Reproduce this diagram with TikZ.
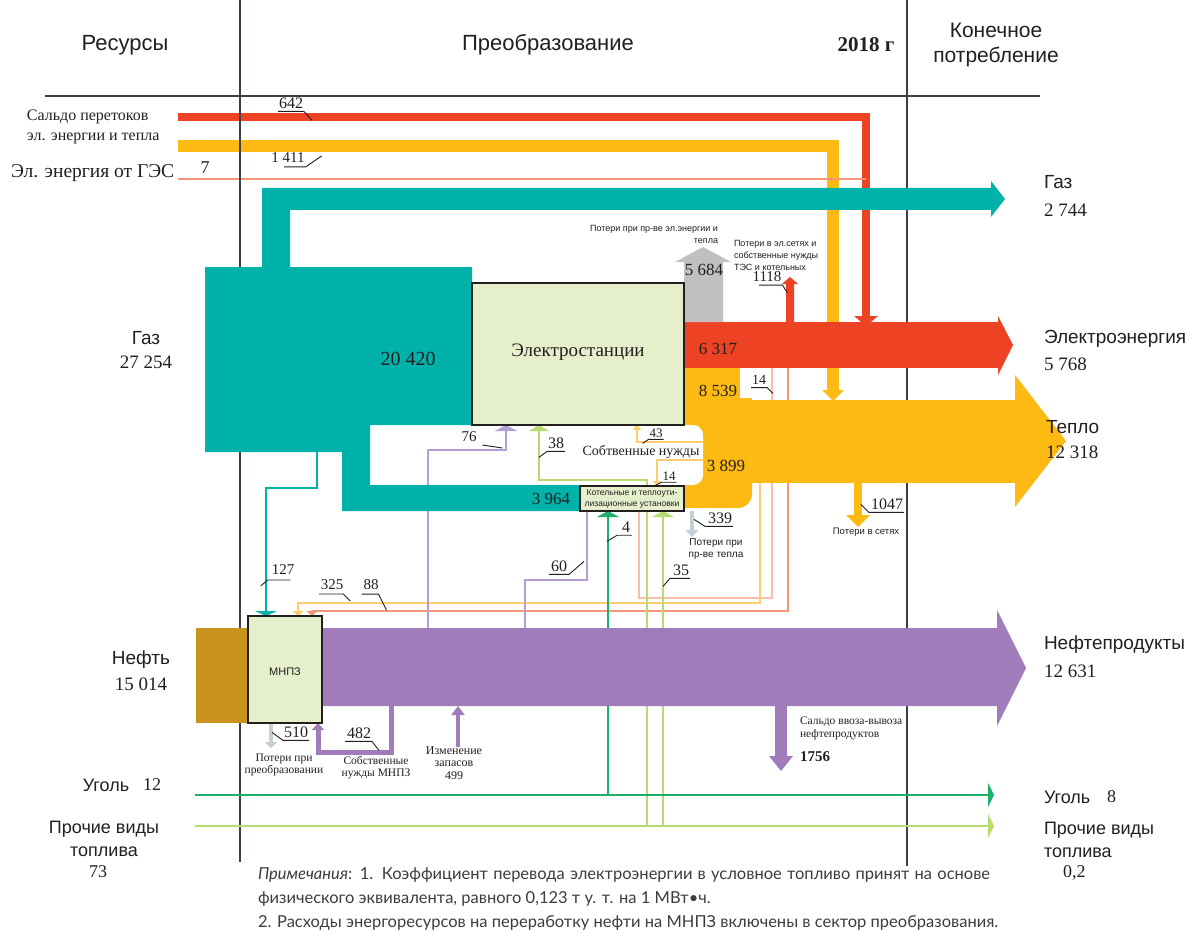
\documentclass[tikz,border=0pt]{standalone}
\usepackage{fontspec}
\setmainfont{Liberation Serif}
\newfontfamily\sansf{Liberation Sans}
\newfontfamily\notef{Lato}
\usetikzlibrary{arrows.meta,calc}
\definecolor{teal1}{RGB}{0,178,169}
\definecolor{red1}{RGB}{238,66,36}
\definecolor{yel1}{RGB}{253,186,19}
\definecolor{yel2}{RGB}{253,206,110}
\definecolor{salm}{RGB}{245,150,120}
\definecolor{salm2}{RGB}{249,190,170}
\definecolor{purp}{RGB}{160,124,186}
\definecolor{purp2}{RGB}{180,158,214}
\definecolor{boxg}{RGB}{230,239,203}
\definecolor{brown1}{RGB}{200,148,30}
\definecolor{gray1}{RGB}{192,192,192}
\definecolor{gray2}{RGB}{196,208,214}
\definecolor{grn1}{RGB}{30,176,106}
\definecolor{grn2}{RGB}{184,218,112}
\definecolor{ink}{RGB}{35,31,32}
\definecolor{rule}{RGB}{60,64,70}
\definecolor{notec}{RGB}{60,60,60}
\tikzset{
  sr/.style={font=\fontsize{#1}{#1}\selectfont},
  ss/.style={font=\sansf\fontsize{#1}{#1}\selectfont},
  srm/.style 2 args={font=\fontsize{#1}{#2}\selectfont},
  ssm/.style 2 args={font=\sansf\fontsize{#1}{#2}\selectfont},
  lead/.style={draw=ink,line width=0.9pt},
  notestyle/.style={anchor=base west,font=\notef\fontsize{16.5}{16.5}\selectfont,text=notec},
}
\begin{document}
\begin{tikzpicture}[x=1pt,y=-1pt,every node/.style={inner sep=0pt,outer sep=0pt,text=ink}]
\fill[white] (0,0) rectangle (1193,933);
\useasboundingbox (0,0) rectangle (1193,933);

% top incoming bands
\draw[red1, line width=8pt] (178,117) -- (866,117) -- (866,318);
\fill[red1] (854,316) -- (878,316) -- (866,326) -- cycle;
\draw[yel1, line width=12pt] (178,146) -- (833,146) -- (833,392);
\fill[yel1] (822,390) -- (844,390) -- (833,401) -- cycle;
\draw[salm, line width=2pt] (178,179) -- (866,179);

% rules
\draw[rule, line width=1.3pt] (45,96) -- (1040,96);
\draw[rule, line width=1.2pt] (240,0) -- (240,862);
\draw[rule, line width=1.2pt] (907,0) -- (907,866);

% thin lines under yellow
\draw[salm, line width=2.5pt, -{Triangle[width=11pt,length=5pt]}] (788,368) -- (788,611) -- (312,611) -- (312,616);
\draw[salm2, line width=2.2pt] (772,368) -- (772,598) -- (639,598) -- (639,511);
\draw[yel2, line width=2.5pt, -{Triangle[width=11pt,length=5pt]}] (760,480) -- (760,603) -- (298,603) -- (298,616);

% yellow (heat)
\fill[yel1] (683,368) rectangle (740,400);
\fill[yel1, rounded corners=14pt] (683,398) rectangle (752,508);
\fill[yel1] (683,398) rectangle (752,440);
\fill[yel1] (683,440) rectangle (710,508);
\fill[yel1] (740,400) rectangle (1016,483);
\fill[yel1] (1015,375) -- (1066,441) -- (1015,507) -- cycle;
\fill[yel1] (854,482) rectangle (862,516);
\fill[yel1] (846,515) -- (870,515) -- (858,527) -- cycle;

% red (electricity)
\fill[red1] (683,322) rectangle (999,368);
\fill[red1] (998,316) -- (1013,345) -- (998,375) -- cycle;
\fill[red1] (786,323) -- (786,284) -- (782,284) -- (790,277) -- (798,284) -- (794,284) -- (794,323) -- cycle;

% gray losses
\fill[gray1] (684,322) -- (684,262) -- (675,262) -- (703,247) -- (731,262) -- (723,262) -- (723,322) -- cycle;
\draw[gray2, line width=3.5pt, -{Triangle[width=13pt,length=7pt]}] (692,511) -- (692,537);

% white cut-out of own needs
\fill[white, rounded corners=10pt] (600,425) rectangle (703,485);

% thin connectors
\draw[teal1, line width=2pt, -{Triangle[width=22pt,length=5pt]}] (317,450) -- (317,488) -- (266,488) -- (266,616);
\draw[purp2, line width=2pt, -{Triangle[width=22pt,length=6pt]}] (428,628) -- (428,450) -- (506,450) -- (506,425);
\draw[purp2, line width=2pt] (525,628) -- (525,580) -- (587,580) -- (587,511);
\draw[grn2, line width=2pt, -{Triangle[width=20pt,length=6pt]}] (647,826) -- (647,480) -- (539,480) -- (539,425);
\draw[yel2, line width=2pt, -{Triangle[width=9pt,length=5pt]}] (703,442) -- (637,442) -- (637,425);
\draw[yel2, line width=2pt, -{Triangle[width=9pt,length=5pt]}] (703,460) -- (657,460) -- (657,486);
\draw[grn1, line width=2.2pt, -{Triangle[width=22pt,length=6pt]}] (608,795) -- (608,511);
\draw[grn2, line width=2.2pt, -{Triangle[width=22pt,length=6pt]}] (663,826) -- (663,511);
\draw[grn1, line width=2.5pt, -{Triangle[width=24pt,length=6pt]}] (195,795) -- (994,795);
\draw[grn2, line width=2.5pt, -{Triangle[width=24pt,length=6pt]}] (195,826) -- (994,826);

% teal (gas)
\fill[teal1] (205,267) -- (262,267) -- (262,188) -- (991,188) -- (991,181) -- (1005,199) -- (991,217) -- (991,210) -- (290,210) -- (290,267) -- (472,267) -- (472,425) -- (370,425) -- (370,485) -- (580,485) -- (580,511) -- (342,511) -- (342,452) -- (205,452) -- cycle;

% purple (oil products)
\fill[purp] (322,628) -- (997,628) -- (997,610) -- (1026,668) -- (997,726) -- (997,706) -- (322,706) -- cycle;
\draw[purp, line width=5pt, -{Triangle[width=12pt,length=7pt]}] (391,705) -- (391,752) -- (318,752) -- (318,723);
\draw[purp, line width=4pt, -{Triangle[width=13pt,length=9pt]}] (458,747) -- (458,706);
\fill[purp] (775,705) rectangle (787,757);
\fill[purp] (769,756) -- (793,756) -- (781,771) -- cycle;
\draw[gray2, line width=3.5pt, -{Triangle[width=12pt,length=6pt]}] (271,723) -- (271,748);

% boxes
\draw[ink, line width=2pt, fill=boxg] (472,283) rectangle (684,425);
\draw[ink, line width=1.5pt, fill=boxg] (580,486) rectangle (684,511);
\fill[brown1] (196,628) rectangle (248,723);
\draw[ink, line width=1.5pt, fill=boxg] (248,616) rectangle (322,723);

% header
\node[ss=22] (tRes) at (125,45) {Ресурсы};
\node[ss=22] (tPre) at (548,45) {Преобразование};
\node[font=\bfseries\fontsize{21}{21}\selectfont] (t2018) at (866,45) {2018 г};
\node[ssm={21}{25}, align=center] (tKon) at (996,45) {Конечное\\потребление};

% left labels
\node[srm={16}{20}, align=left, anchor=west] (tSal) at (27,127) {Сальдо перетоков\\эл. энергии и тепла};
\node[sr=19.5, anchor=west] (tGes) at (11,173) {Эл. энергия от ГЭС};
\node[sr=18] (t7) at (205,168) {7};
\node[ss=19] (tGazL) at (146,338) {Газ};
\node[sr=19] (vGazL) at (146,362) {27 254};
\node[ss=19] (tNefL) at (141,660) {Нефть};
\node[sr=19] (vNefL) at (141,684) {15 014};
\node[ss=18] (tUgL) at (106,785) {Уголь};
\node[sr=18] (vUgL) at (152,785) {12};
\node[ssm={18}{23}, align=center] (tProL) at (104,839) {Прочие виды\\топлива};
\node[sr=18] (vProL) at (98,872) {73};

% right labels
\node[ss=19, anchor=west] (tGazR) at (1044,182) {Газ};
\node[sr=19, anchor=west] (vGazR) at (1044,210) {2 744};
\node[ss=19, anchor=west] (tEl) at (1044,339) {Электроэнергия};
\node[sr=19, anchor=west] (vEl) at (1044,364) {5 768};
\node[ss=19, anchor=west] (tTep) at (1046,427) {Тепло};
\node[sr=19, anchor=west] (vTep) at (1046,452) {12 318};
\node[ss=19, anchor=west] (tNP) at (1044,645) {Нефтепродукты};
\node[sr=19, anchor=west] (vNP) at (1044,671) {12 631};
\node[ss=18, anchor=west] (tUgR) at (1044,797) {Уголь};
\node[sr=18, anchor=west] (vUgR) at (1107,797) {8};
\node[ssm={18}{23}, align=left, anchor=west] (tProR) at (1044,840) {Прочие виды\\топлива};
\node[sr=18, anchor=west] (vProR) at (1063,873) {0,2};

% inner labels
\node[sr=20] (v20420) at (408,359) {20 420};
\node[sr=19] (tES) at (578,352) {Электростанции};
\node[sr=17] (v6317) at (718,349) {6 317};
\node[sr=17] (v8539) at (718,391) {8 539};
\node[sr=17] (v3899) at (726,466) {3 899};
\node[sr=17] (v3964) at (551,499) {3 964};
\node[sr=14] (tSob) at (641,452) {Собтвенные нужды};
\node[sr=17] (v5684) at (704,270) {5 684};
\node[ssm={9}{12}, align=right, anchor=east] (tLoss1) at (718,234) {Потери при пр-ве эл.энергии и\\тепла};
\node[ssm={9}{12}, align=left, anchor=west] (tLoss2) at (734,255) {Потери в эл.сетях и\\собственные нужды\\ТЭС и котельных};
\node[ssm={8.5}{11}, align=center] (tKot) at (632,498.5) {Котельные и теплоути-\\лизационные установки};
\node[ss=11] (tMN) at (285,672) {МНПЗ};
\node[ssm={10}{12}, align=center] (tLoss3) at (716,549) {Потери при\\пр-ве тепла};
\node[ss=9.5] (tLoss4) at (866,532) {Потери в сетях};
\node[srm={11.5}{12}, align=center] (tLoss5) at (284,765) {Потери при\\преобразовании};
\node[srm={11.5}{12}, align=center] (tSobM) at (376,768) {Собственные\\нужды МНПЗ};
\node[srm={12}{12.5}, align=center] (tIzm) at (454,763) {Изменение\\запасов\\499};
\node[srm={11.5}{13}, align=left, anchor=west] (tSal2) at (800,728) {Сальдо ввоза-вывоза\\нефтепродуктов};
\node[font=\bfseries\fontsize{15}{15}\selectfont, anchor=west] (v1756) at (800,757) {1756};

% numbers with leaders
\node[sr=16] (n642) at (291,103) {642};
\draw[lead] ($(n642.south west)+(-1,3)$) -- ($(n642.south east)+(1,3)$) -- ++(8,9);
\node[sr=15] (n1411) at (288,158) {1 411};
\draw[lead] ($(n1411.south)+(-4,4)$) -- ($(n1411.south east)+(1,4)$) -- ++(16,-11);
\node[sr=15] (n127) at (283,570) {127};
\draw[lead] ($(n127.south east)+(-4,5)$) -- ($(n127.south west)+(-4,5)$) -- ++(-7,6);
\node[sr=15] (n325) at (332,585) {325};
\draw[lead] ($(n325.south west)+(-2,4)$) -- ($(n325.south east)+(0,4)$) -- ++(7,7);
\node[sr=15] (n88) at (371,585) {88};
\draw[lead] ($(n88.south west)+(-2,4)$) -- ($(n88.south east)+(0,4)$) -- ++(8,16);
\node[sr=16] (n60) at (559,566) {60};
\draw[lead] ($(n60.south west)+(-2,3)$) -- ($(n60.south east)+(2,3)$) -- ++(15,-13);
\node[sr=15] (n76) at (469,437) {76};
\draw[lead] ($(n76.south east)+(6,3)$) -- ++(20,3);
\node[sr=16] (n38) at (556,443) {38};
\draw[lead] ($(n38.south east)+(1,3)$) -- ($(n38.south west)+(-1,3)$) -- ++(-8,6);
\node[sr=13] (n43) at (656,433) {43};
\draw[lead] ($(n43.south east)+(1,2)$) -- ($(n43.south west)+(-1,2)$) -- ++(-6,4);
\node[sr=13] (n14a) at (669,476) {14};
\draw[lead] ($(n14a.south east)+(1,2)$) -- ($(n14a.south west)+(-1,2)$) -- ++(-6,3);
\node[sr=16] (n4) at (626,527) {4};
\draw[lead] ($(n4.south east)+(2,3)$) -- ($(n4.south west)+(-5,3)$) -- ++(-10,6);
\node[sr=16] (n35) at (681,570) {35};
\draw[lead] ($(n35.south east)+(1,3)$) -- ($(n35.south west)+(-3,3)$) -- ++(-7,8);
\node[sr=16] (n339) at (720,518) {339};
\draw[lead] ($(n339.south east)+(1,3)$) -- ($(n339.south west)+(-3,3)$) -- ++(-11,-7);
\node[sr=16] (n1047) at (887,504) {1047};
\draw[lead] ($(n1047.south east)+(1,3)$) -- ($(n1047.south west)+(-2,3)$) -- ++(-8,-8);
\node[sr=15] (n1118) at (767,277) {1118};
\draw[lead] ($(n1118.south)+(-8,3)$) -- ($(n1118.south east)+(1,3)$) -- ++(5,8);
\node[sr=14] (n14b) at (759,380) {14};
\draw[lead] ($(n14b.south west)+(-1,3)$) -- ($(n14b.south east)+(1,3)$) -- ++(6,6);
\node[sr=16] (n482) at (359,733) {482};
\draw[lead] ($(n482.south west)+(-2,3)$) -- ($(n482.south east)+(1,3)$) -- ++(7,9);
\node[sr=16] (n510) at (296,732) {510};
\draw[lead] ($(n510.south east)+(1,3)$) -- ($(n510.south west)+(-1,3)$) -- ++(-11,-8);

% notes
\node[notestyle] (note1) at (258,879) {\makebox[732pt][s]{\textit{Примечания}: 1. Коэффициент перевода электроэнергии в условное топливо принят на основе}};
\node[notestyle] (note2) at (258,903) {физического эквивалента, равного 0,123 т у. т. на 1 МВт•ч.};
\node[notestyle] (note3) at (258,927) {2. Расходы энергоресурсов на переработку нефти на МНПЗ включены в сектор преобразования.};
\end{tikzpicture}
\end{document}
